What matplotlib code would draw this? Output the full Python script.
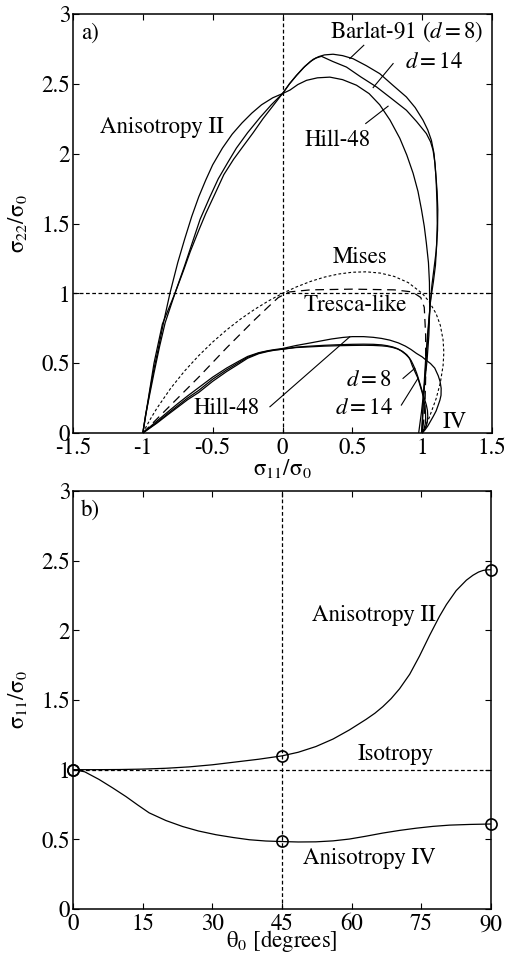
import matplotlib
matplotlib.use('Agg')
import matplotlib.pyplot as plt

plt.rcParams['font.family'] = ['STIXGeneral', 'DejaVu Serif']
plt.rcParams['mathtext.fontset'] = 'stix'

# ---- panel a) yield loci (read off the figure) ----
hill2_x = [-1.0, -0.98, -0.95, -0.92, -0.89, -0.85, -0.806, -0.75, -0.7, -0.65, -0.6, -0.55, -0.5, -0.43,
           -0.36, -0.29, -0.22, -0.15, -0.07, 0.0, 0.053, 0.11, 0.172, 0.25, 0.339, 0.43, 0.53, 0.62,
           0.696, 0.77, 0.84, 0.89, 0.935, 0.97, 0.995, 1.015, 1.03, 1.045, 1.052, 1.054, 1.048, 1.035,
           1.015, 0.995, 0.975]
hill2_y = [0.0, 0.12, 0.3, 0.46, 0.6, 0.8, 1.0, 1.22, 1.39, 1.55, 1.69, 1.81, 1.92, 2.04,
           2.14, 2.22, 2.29, 2.35, 2.4, 2.43, 2.455, 2.495, 2.525, 2.543, 2.548, 2.53, 2.49, 2.43,
           2.35, 2.24, 2.11, 1.99, 1.86, 1.73, 1.6, 1.48, 1.36, 1.22, 1.08, 0.88, 0.7, 0.52,
           0.33, 0.15, 0.0]

b8_x = [-1.0, -0.98, -0.95, -0.92, -0.88, -0.84, -0.77, -0.7, -0.64, -0.59, -0.52, -0.46, -0.39, -0.33,
        -0.25, -0.16, -0.08, 0.0, 0.05, 0.1, 0.16, 0.219, 0.26, 0.3, 0.362, 0.43, 0.505, 0.6, 0.696, 0.79,
        0.887, 0.95, 1.006, 1.04, 1.066, 1.085, 1.097, 1.107, 1.112, 1.11, 1.1, 1.085, 1.07, 1.054, 1.04,
        1.025, 1.01, 1.0]
b8_y = [0.0, 0.13, 0.28, 0.43, 0.62, 0.79, 1.0, 1.2, 1.38, 1.53, 1.69, 1.82, 1.94, 2.04,
        2.15, 2.26, 2.35, 2.43, 2.5, 2.56, 2.625, 2.675, 2.695, 2.707, 2.712, 2.702, 2.68, 2.63, 2.573,
        2.49, 2.406, 2.33, 2.24, 2.17, 2.096, 2.0, 1.86, 1.73, 1.6, 1.45, 1.3, 1.18, 1.06, 0.88, 0.72,
        0.53, 0.28, 0.0]

b14_x = [-1.0, -0.98, -0.96, -0.92, -0.89, -0.86, -0.77, -0.71, -0.66, -0.6, -0.55, -0.48, -0.42,
         -0.35, -0.284, -0.21, -0.14, -0.07, 0.0, 0.05, 0.1, 0.15, 0.2, 0.24, 0.279, 0.36, 0.458, 0.56,
         0.673, 0.78, 0.887, 0.96, 1.03, 1.06, 1.078, 1.092, 1.1, 1.106, 1.108, 1.104, 1.095, 1.08,
         1.06, 1.045, 1.03, 1.01, 0.995]
b14_y = [0.0, 0.13, 0.25, 0.5, 0.64, 0.78, 1.0, 1.16, 1.3, 1.45, 1.57, 1.72, 1.85, 1.96, 2.05, 2.15,
         2.25, 2.34, 2.43, 2.5, 2.56, 2.615, 2.66, 2.685, 2.697, 2.66, 2.62, 2.55, 2.478, 2.395, 2.311,
         2.23, 2.144, 2.085, 2.025, 1.93, 1.81, 1.65, 1.5, 1.35, 1.2, 1.08, 0.95, 0.75, 0.55, 0.25, 0.0]

hill4_x = [-1.0, -0.95, -0.9, -0.82, -0.75, -0.68, -0.6, -0.5, -0.4, -0.32, -0.25, -0.17, -0.1, -0.05, 0.0,
           0.1, 0.2, 0.28, 0.35, 0.43, 0.5, 0.58, 0.65, 0.71, 0.768, 0.83, 0.88, 0.92, 0.959, 1.0, 1.03,
           1.06, 1.09, 1.115, 1.128, 1.136, 1.135, 1.127, 1.115, 1.1, 1.08, 1.06, 1.04, 1.02, 1.0]
hill4_y = [0.0, 0.043, 0.085, 0.152, 0.21, 0.265, 0.325, 0.4, 0.465, 0.51, 0.548, 0.575, 0.59, 0.598, 0.605,
           0.627, 0.645, 0.66, 0.673, 0.684, 0.69, 0.69, 0.685, 0.677, 0.665, 0.645, 0.622, 0.598, 0.57, 0.545,
           0.52, 0.497, 0.465, 0.41, 0.37, 0.32, 0.27, 0.235, 0.2, 0.158, 0.12, 0.085, 0.05, 0.022, 0.0]

b8iv_x = [-1.0, -0.95, -0.9, -0.82, -0.75, -0.68, -0.6, -0.5, -0.4, -0.32, -0.25, -0.17, -0.1, -0.05, 0.0,
          0.1, 0.2, 0.3, 0.4, 0.5, 0.58, 0.65, 0.71, 0.75, 0.79, 0.82, 0.85, 0.88, 0.9, 0.92, 0.935, 0.947,
          0.96, 0.97, 0.985, 1.0, 1.015, 1.03, 1.038, 1.04, 1.037, 1.03, 1.015, 1.0]
b8iv_y = [0.0, 0.037, 0.075, 0.14, 0.195, 0.25, 0.305, 0.385, 0.452, 0.5, 0.542, 0.572, 0.588, 0.595, 0.6,
          0.615, 0.622, 0.628, 0.632, 0.635, 0.636, 0.635, 0.631, 0.625, 0.616, 0.605, 0.588, 0.565, 0.545,
          0.52, 0.49, 0.463, 0.43, 0.4, 0.35, 0.3, 0.25, 0.2, 0.16, 0.12, 0.085, 0.05, 0.022, 0.0]

b14iv_x = [-1.0, -0.95, -0.9, -0.82, -0.75, -0.68, -0.6, -0.5, -0.4, -0.32, -0.25, -0.17, -0.1, -0.05, 0.0,
           0.1, 0.2, 0.3, 0.4, 0.5, 0.58, 0.65, 0.71, 0.75, 0.79, 0.83, 0.86, 0.89, 0.91, 0.93, 0.95, 0.97,
           0.985, 1.0, 1.012, 1.02, 1.024, 1.025, 1.022, 1.015, 1.0]
b14iv_y = [0.0, 0.035, 0.07, 0.132, 0.185, 0.238, 0.29, 0.37, 0.44, 0.49, 0.535, 0.568, 0.585, 0.594, 0.6,
           0.612, 0.617, 0.622, 0.625, 0.627, 0.628, 0.627, 0.624, 0.62, 0.612, 0.6, 0.584, 0.56, 0.535,
           0.48, 0.435, 0.391, 0.34, 0.29, 0.24, 0.19, 0.145, 0.1, 0.065, 0.035, 0.0]

mises_x = [-1.0, -0.95, -0.9, -0.8, -0.7, -0.6, -0.5, -0.4, -0.3, -0.2, -0.1, 0.0, 0.1, 0.2, 0.3, 0.4, 0.5,
           0.6, 0.7, 0.8, 0.9, 1.0, 1.05, 1.1, 1.13, 1.15, 1.155, 1.15, 1.13, 1.1, 1.05, 1.0]
mises_y = [0.0, 0.093, 0.176, 0.321, 0.445, 0.554, 0.651, 0.738, 0.816, 0.885, 0.946, 1.0, 1.046, 1.085, 1.116,
           1.138, 1.151, 1.154, 1.145, 1.121, 1.077, 1.0, 0.941, 0.854, 0.771, 0.665, 0.577, 0.485, 0.359, 0.246,
           0.109, 0.0]

tresca_x = [-1.0, -0.9, -0.8, -0.7, -0.6, -0.5, -0.4, -0.3, -0.2, -0.1, -0.03, 0.05, 0.2, 0.5, 0.8, 0.93,
            0.99, 1.015, 1.025, 1.025, 1.02, 1.01, 1.0]
tresca_y = [0.0, 0.1, 0.2, 0.3, 0.4, 0.505, 0.61, 0.71, 0.81, 0.905, 0.97, 1.01, 1.025, 1.03, 1.025, 1.01,
            0.97, 0.9, 0.7, 0.4, 0.2, 0.08, 0.0]

# ---- panel b) uniaxial strength vs angle ----
ang2 = [0, 5, 10, 15, 20, 25, 30, 35, 40, 45, 48.5, 52.3, 56, 59.5, 63.1, 65, 66.7, 68.5, 70.3, 72.5,
        74.6, 76.8, 78.9, 80.4, 82.5, 84.7, 86.1, 87.3, 88.3, 89.2, 90]
s2 = [1.0, 1.0, 1.001, 1.004, 1.01, 1.02, 1.035, 1.055, 1.075, 1.099, 1.125, 1.166, 1.22, 1.285, 1.361,
      1.405, 1.452, 1.51, 1.58, 1.685, 1.815, 1.965, 2.1, 2.185, 2.285, 2.36, 2.395, 2.418, 2.43, 2.434, 2.435]
ang4 = [0, 2.5, 5.6, 8.5, 11.4, 14, 16.4, 20, 23.6, 27, 30.8, 34.5, 38, 41.5, 45, 48.5, 52.3, 56, 59.5, 63,
        66.7, 70.3, 73.9, 77.5, 81.1, 85.5, 90]
s4 = [1.0, 0.985, 0.93, 0.87, 0.807, 0.745, 0.69, 0.635, 0.592, 0.56, 0.533, 0.513, 0.497, 0.488, 0.484,
      0.481, 0.482, 0.489, 0.502, 0.522, 0.545, 0.564, 0.58, 0.593, 0.602, 0.607, 0.61]
pts_ang = [0, 45, 90]
pts_s2 = [1.0, 1.1, 2.435]
pts_s4 = [1.0, 0.485, 0.61]

fs = 16.5
lw = 0.9
fig = plt.figure(figsize=(5.09, 9.56), dpi=100)
ax1 = fig.add_axes([73/509, 1-433/956, 419/509, 419/956])
ax2 = fig.add_axes([73/509, 1-909/956, 418/509, 418/956])

for ax in (ax1, ax2):
    ax.tick_params(direction='in', top=True, right=True, length=4.5, width=0.8, labelsize=fs, pad=2)
    ax.tick_params(axis='x', pad=3.6)
    for s in ax.spines.values():
        s.set_linewidth(1.1)

# a)
ax1.axhline(1, color='k', lw=lw, ls=(0, (3, 2)))
ax1.axvline(0, color='k', lw=lw, ls=(0, (3, 2)))
for xs, ys in [(hill2_x, hill2_y), (b8_x, b8_y), (b14_x, b14_y),
               (hill4_x, hill4_y), (b8iv_x, b8iv_y), (b14iv_x, b14iv_y)]:
    ax1.plot(xs, ys, color='k', lw=lw)
ax1.plot(mises_x, mises_y, color='k', lw=0.8, ls=(0, (2.5, 2)))
ax1.plot(tresca_x, tresca_y, color='k', lw=0.9, ls=(0, (7, 4.5)))

ax1.text(0.02, 0.955, 'a)', transform=ax1.transAxes, fontsize=fs, va='center')
ax1.text(1.44, 2.87, r'Barlat-91 ($d = 8$)', fontsize=fs, ha='right', va='center')
ax1.text(1.29, 2.657, r'$d = 14$', fontsize=fs, ha='right', va='center')
ax1.text(0.16, 2.096, 'Hill-48', fontsize=fs, va='center')
ax1.text(-1.307, 2.19, 'Anisotropy II', fontsize=fs, va='center')
ax1.text(0.362, 1.26, 'Mises', fontsize=fs, va='center')
ax1.text(0.148, 0.916, 'Tresca-like', fontsize=fs, va='center')
ax1.text(-0.634, 0.177, 'Hill-48', fontsize=fs, va='center')
ax1.text(0.78, 0.379, r'$d = 8$', fontsize=fs, ha='right', va='center')
ax1.text(0.79, 0.177, r'$d = 14$', fontsize=fs, ha='right', va='center')
ax1.text(1.147, 0.074, 'IV', fontsize=fs, va='center')

leaders = [((0.582, 0.482), (2.776, 2.681)),
           ((0.792, 0.649), (2.645, 2.473)),
           ((0.596, 0.756), (2.216, 2.34)),
           ((-0.09, 0.482), (0.188, 0.689)),
           ((0.863, 0.947), (0.391, 0.463)),
           ((0.851, 0.97), (0.2, 0.391))]
for lx, ly in leaders:
    ax1.plot(lx, ly, color='k', lw=0.8)

ax1.set_xlim(-1.5, 1.5)
ax1.set_ylim(0, 3)
ax1.set_xticks([-1.5, -1, -0.5, 0, 0.5, 1, 1.5])
ax1.set_xticklabels(['-1.5', '-1', '-0.5', '0', '0.5', '1', '1.5'])
ax1.set_yticks([0, 0.5, 1, 1.5, 2, 2.5, 3])
ax1.set_yticklabels(['0', '0.5', '1', '1.5', '2', '2.5', '3'])
ax1.set_xlabel('σ$_{11}$/σ$_0$', fontsize=fs, labelpad=-2)
ax1.set_ylabel('σ$_{22}$/σ$_0$', fontsize=fs, labelpad=9)

# b)
ax2.axhline(1, color='k', lw=lw, ls=(0, (3, 2)))
ax2.axvline(45, color='k', lw=lw, ls=(0, (3, 2)))
ax2.plot(ang2, s2, color='k', lw=lw)
ax2.plot(ang4, s4, color='k', lw=lw)
ax2.plot(pts_ang, pts_s2, 'o', ms=8, mfc='none', mec='k', mew=1.2, clip_on=False)
ax2.plot(pts_ang, pts_s4, 'o', ms=8, mfc='none', mec='k', mew=1.2, clip_on=False)

ax2.text(0.02, 0.955, 'b)', transform=ax2.transAxes, fontsize=fs, va='center')
ax2.text(64.7, 2.109, 'Anisotropy II', fontsize=fs, ha='center', va='center')
ax2.text(69.4, 1.113, 'Isotropy', fontsize=fs, ha='center', va='center')
ax2.text(63.9, 0.365, 'Anisotropy IV', fontsize=fs, ha='center', va='center')

ax2.set_xlim(0, 90)
ax2.set_ylim(0, 3)
ax2.set_xticks([0, 15, 30, 45, 60, 75, 90])
ax2.set_yticks([0, 0.5, 1, 1.5, 2, 2.5, 3])
ax2.set_yticklabels(['0', '0.5', '1', '1.5', '2', '2.5', '3'])
ax2.set_xlabel('θ$_0$ [degrees]', fontsize=fs, labelpad=-5)
ax2.set_ylabel('σ$_{11}$/σ$_0$', fontsize=fs, labelpad=9)

fig.savefig('out.png', dpi=100)
